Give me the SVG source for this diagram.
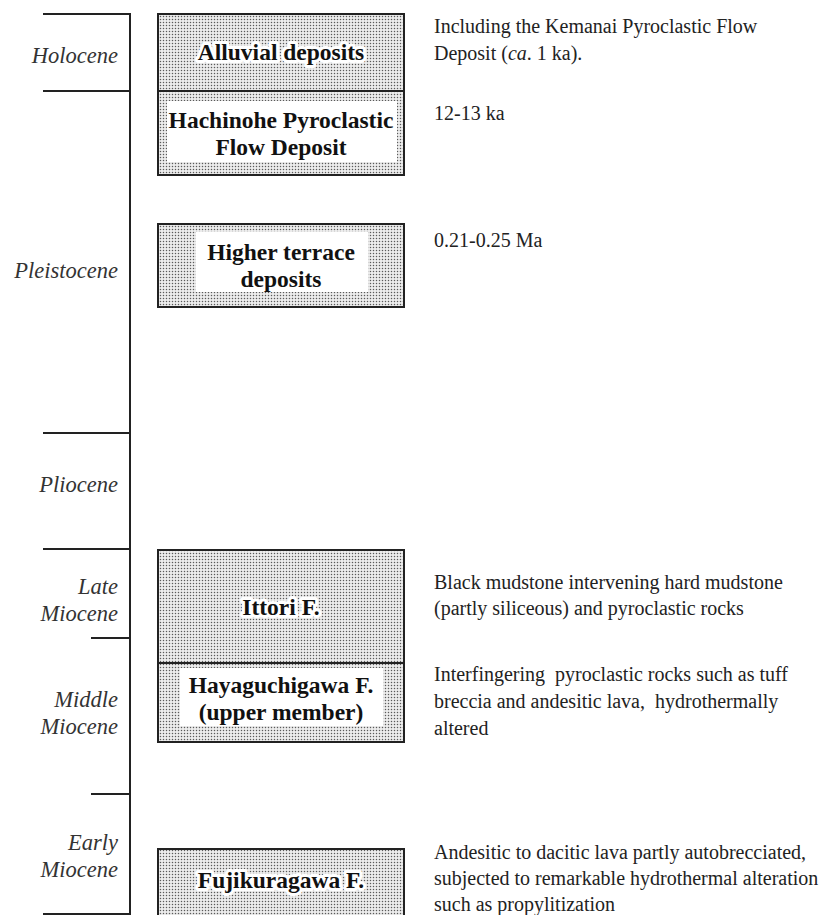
<svg xmlns="http://www.w3.org/2000/svg" width="827" height="915" viewBox="0 0 827 915">
<defs>
<pattern id="stip" width="3" height="3" patternUnits="userSpaceOnUse">
<rect width="3" height="3" fill="#ececec"/>
<circle cx="1.5" cy="1.5" r="0.75" fill="#5a5a5a"/>
</pattern>
<style>
.box{fill:url(#stip);stroke:#222;stroke-width:2}
.div{stroke:#222;stroke-width:2}
.ax{stroke:#222;stroke-width:2;fill:none}
.lab{font-family:"Liberation Serif","Times New Roman",serif;font-weight:bold;font-size:23.5px;fill:#111;text-anchor:middle}
.halo{paint-order:stroke;stroke:#fff;stroke-width:6;stroke-linejoin:round}
.per{font-family:"Liberation Serif","Times New Roman",serif;font-style:italic;font-size:22.5px;fill:#333;text-anchor:end}
.desc{font-family:"Liberation Serif","Times New Roman",serif;font-size:20px;fill:#222}
</style>
</defs>
<rect width="827" height="915" fill="#fff"/>

<g id="timescale">
<path class="ax" d="M130 13V915"/>
<path class="ax" d="M43 14H130M43 91H130M43 433H130M43 549H130M91 638H130M91 794H130M43 914H130"/>
<text class="per" x="118" y="63">Holocene</text>
<text class="per" x="118" y="278">Pleistocene</text>
<text class="per" x="118" y="492">Pliocene</text>
<text class="per" x="118" y="594">Late</text>
<text class="per" x="118" y="621">Miocene</text>
<text class="per" x="118" y="707">Middle</text>
<text class="per" x="118" y="734">Miocene</text>
<text class="per" x="118" y="850">Early</text>
<text class="per" x="118" y="877">Miocene</text>
</g>

<g id="alluvial">
<rect class="box" x="158" y="14" width="246" height="77"/>
<text class="lab halo" x="281" y="60">Alluvial deposits</text>
</g>

<g id="hachinohe">
<rect class="box" x="158" y="91" width="246" height="84"/>
<rect x="167" y="101" width="230" height="61" fill="#fff"/>
<text class="lab" x="281" y="128">Hachinohe Pyroclastic</text>
<text class="lab" x="281" y="155">Flow Deposit</text>
</g>

<g id="terrace">
<rect class="box" x="158" y="224" width="246" height="83"/>
<rect x="196" y="232" width="172" height="60" fill="#fff"/>
<text class="lab" x="281" y="260">Higher terrace</text>
<text class="lab" x="281" y="287">deposits</text>
</g>

<g id="ittori">
<rect class="box" x="158" y="550" width="246" height="113"/>
<text class="lab halo" x="281" y="615">Ittori F.</text>
</g>

<g id="hayaguchigawa">
<rect class="box" x="158" y="663" width="246" height="79"/>
<rect x="180" y="668" width="203" height="58" fill="#fff"/>
<text class="lab" x="281" y="693">Hayaguchigawa F.</text>
<text class="lab" x="281" y="720">(upper member)</text>
</g>

<g id="fujikuragawa">
<rect class="box" x="158" y="849" width="246" height="70"/>
<text class="lab halo" x="281" y="888">Fujikuragawa F.</text>
</g>

<g id="descriptions">
<text class="desc" x="434" y="33">Including the Kemanai Pyroclastic Flow</text>
<text class="desc" x="434" y="60">Deposit (<tspan font-style="italic">ca</tspan>. 1 ka).</text>
<text class="desc" x="434" y="120">12-13 ka</text>
<text class="desc" x="434" y="247">0.21-0.25 Ma</text>
<text class="desc" x="434" y="589">Black mudstone intervening hard mudstone</text>
<text class="desc" x="434" y="615">(partly siliceous) and pyroclastic rocks</text>
<text class="desc" x="434" y="681" xml:space="preserve">Interfingering  pyroclastic rocks such as tuff</text>
<text class="desc" x="434" y="708" xml:space="preserve">breccia and andesitic lava,  hydrothermally</text>
<text class="desc" x="434" y="735">altered</text>
<text class="desc" x="434" y="859">Andesitic to dacitic lava partly autobrecciated,</text>
<text class="desc" x="434" y="885">subjected to remarkable hydrothermal alteration</text>
<text class="desc" x="434" y="911">such as propylitization</text>
</g>
</svg>
